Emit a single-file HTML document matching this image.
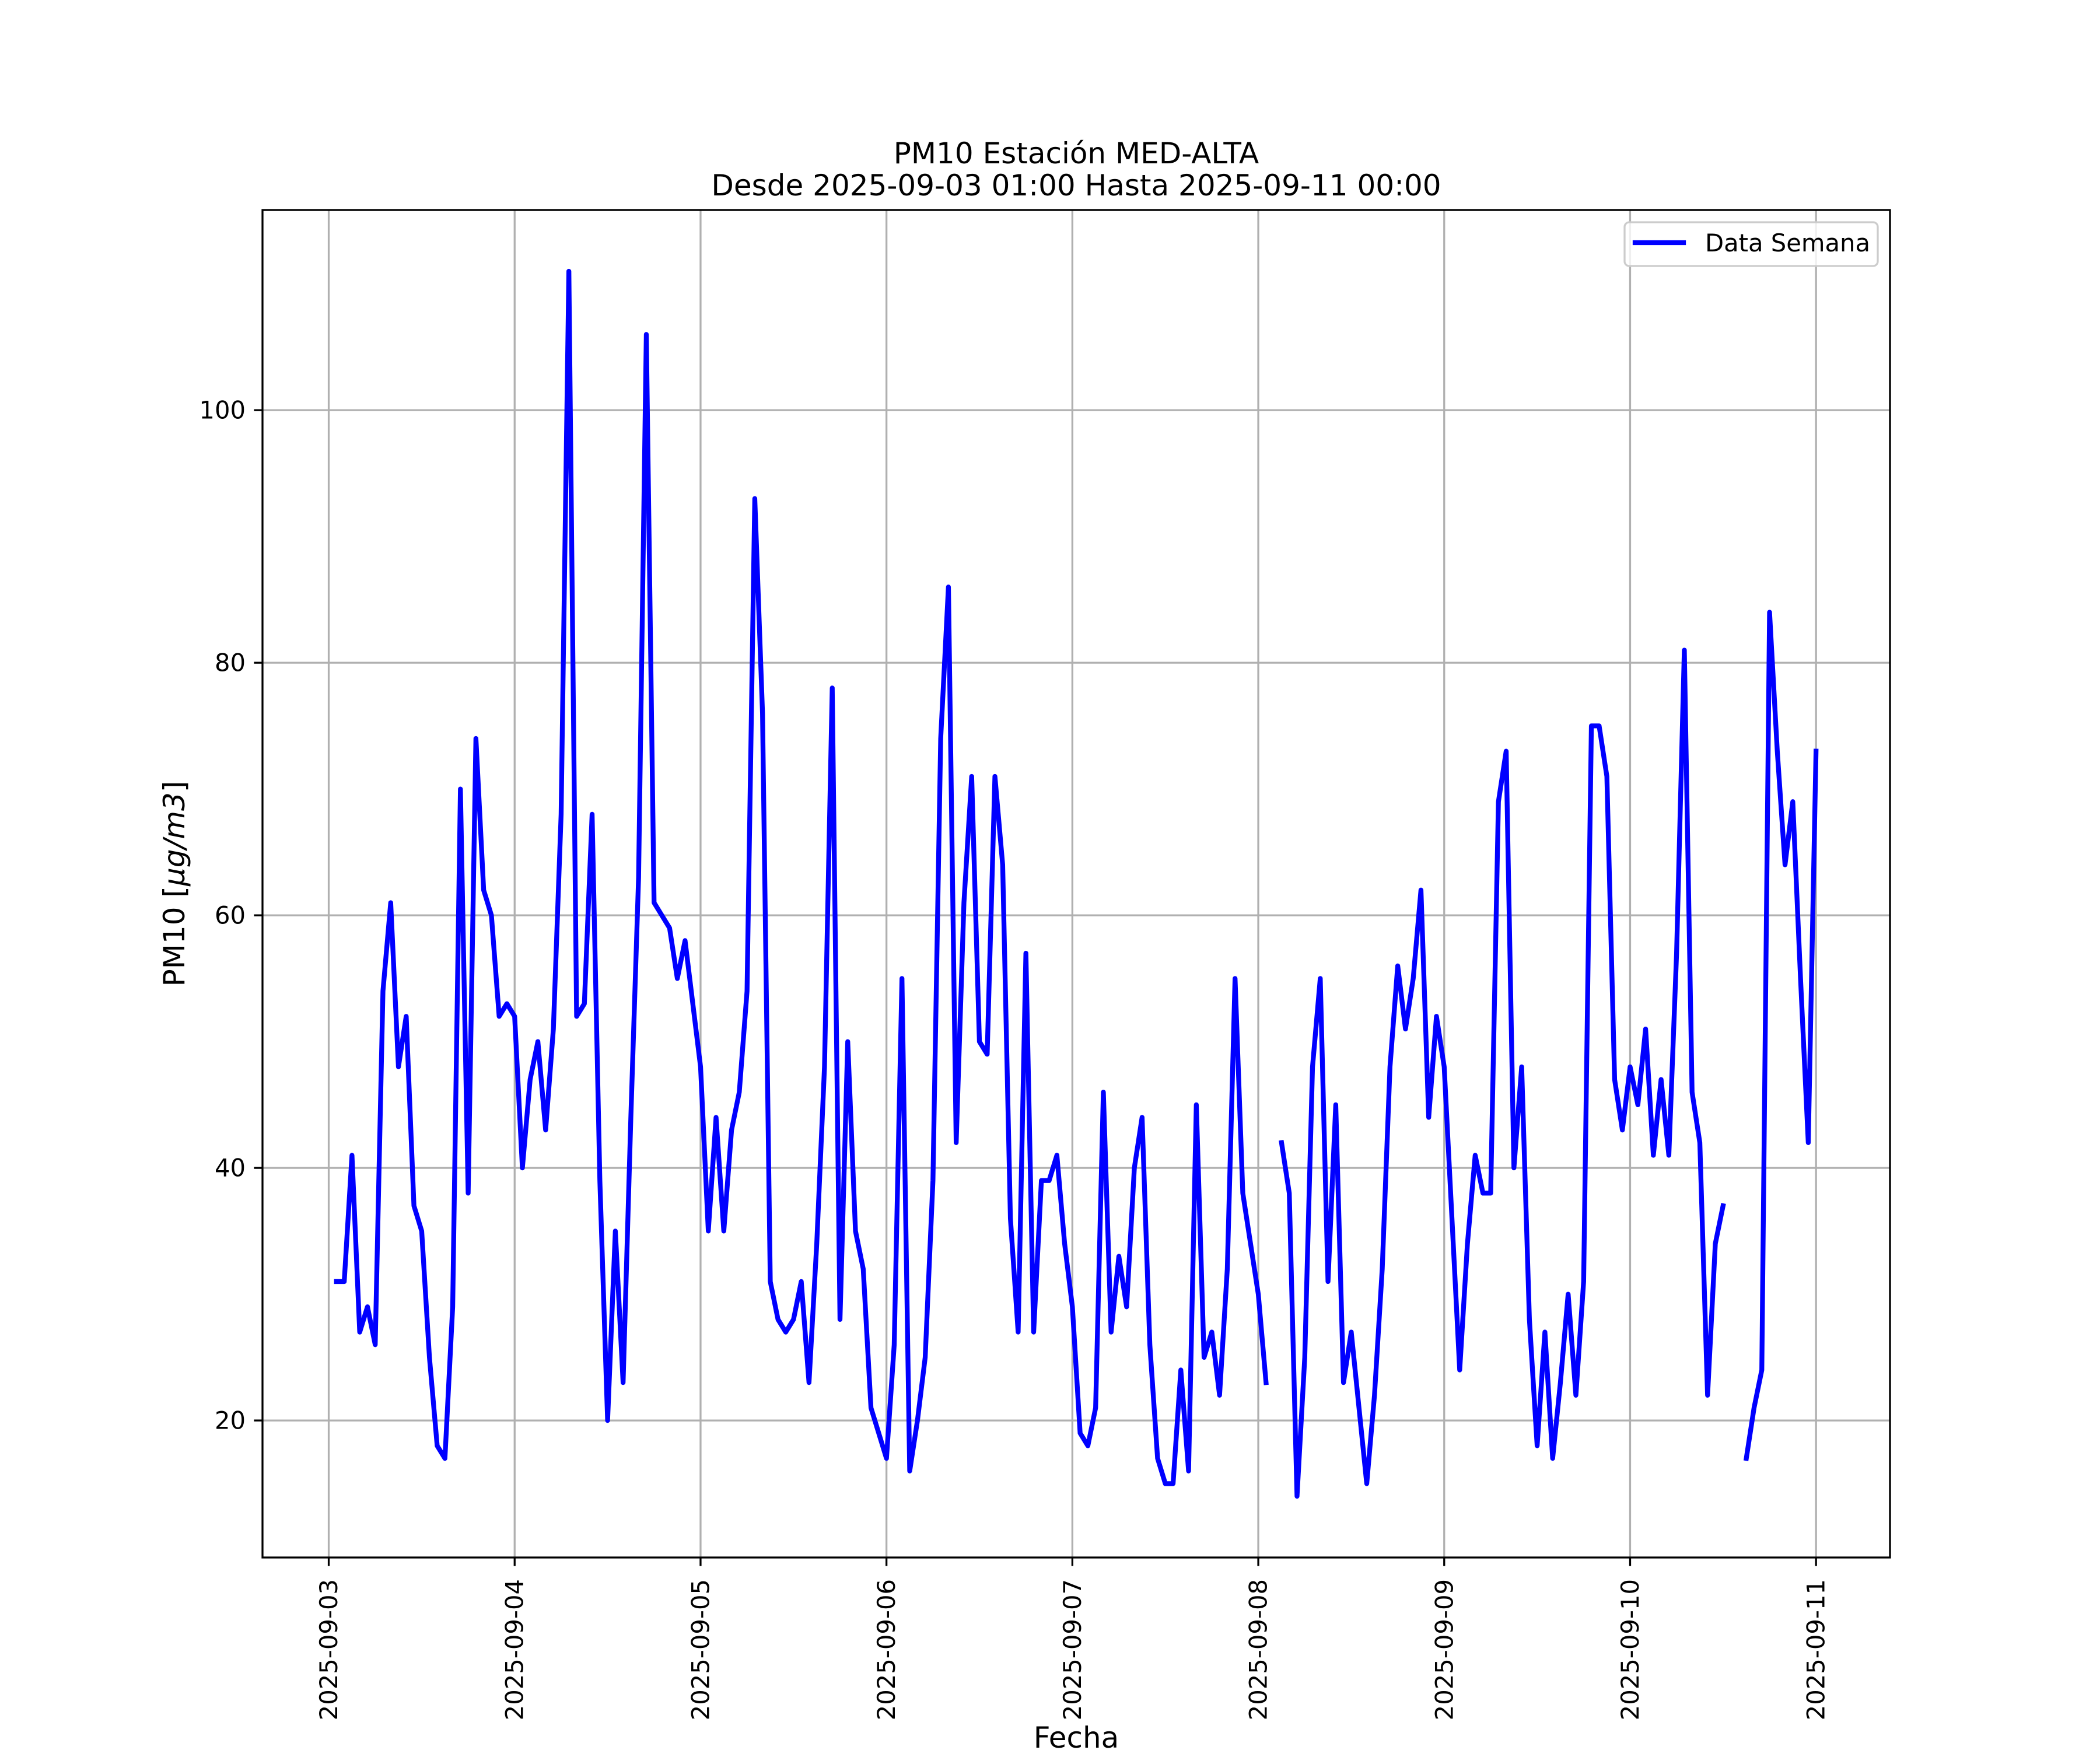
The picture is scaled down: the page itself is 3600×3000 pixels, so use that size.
<!DOCTYPE html>
<html><head><meta charset="utf-8"><title>PM10 Estación MED-ALTA</title>
<style>
html,body{margin:0;padding:0;background:#fff;}
svg{display:block;}
text{font-family:"DejaVu Sans","Liberation Sans",sans-serif;fill:#000;}
</style></head>
<body>
<svg id="chart" xmlns="http://www.w3.org/2000/svg" width="3600" height="3000" viewBox="0 0 3600 3000">
  <rect x="0" y="0" width="3600" height="3000" fill="#fff"/>
  <defs><clipPath id="axclip"><rect x="450" y="360" width="2790" height="2310"/></clipPath></defs>
  <g id="grid"></g>
  <g id="series" clip-path="url(#axclip)"></g>
  <rect x="450" y="360" width="2790" height="2310" fill="none" stroke="#000" stroke-width="3.3"/>
  <g id="xticks"></g>
  <g id="yticks"></g>
  <text x="1845" y="280" font-size="50" text-anchor="middle">PM10 Estación MED-ALTA</text>
  <text x="1845" y="335" font-size="50" text-anchor="middle">Desde 2025-09-03 01:00 Hasta 2025-09-11 00:00</text>
  <text x="1845" y="2996" font-size="50" text-anchor="middle">Fecha</text>
  <text transform="translate(316,1515) rotate(-90)" font-size="50" text-anchor="middle">PM10 [<tspan font-style="italic">μg/m3</tspan>]</text>
  <g>
    <rect x="2785" y="381" width="434" height="75" rx="8" ry="8" fill="#fff" fill-opacity="0.8" stroke="#cccccc" stroke-width="3.3"/>
    <line x1="2803" y1="416" x2="2886" y2="416" stroke="#0000ff" stroke-width="8.3" stroke-linecap="square"/>
    <text x="2923" y="431" font-size="41.7">Data Semana</text>
  </g>
</svg>
<script>
// Hourly PM10 values starting 2025-09-03 01:00 (hour offset 1) to 2025-09-11 00:00 (offset 192); null = missing
const values = [
31,31,41,27,29,26,54,61,48,52,37,35,25,18,17,29,70,38,74,62,60,52,53,52,
40,47,50,43,51,68,111,52,53,68,39,20,35,23,44,63,106,61,60,59,55,58,53,48,
35,44,35,43,46,54,93,76,31,28,27,28,31,23,34,48,78,28,50,35,32,21,19,17,
26,55,16,20,25,39,74,86,42,61,71,50,49,71,64,36,27,57,27,39,39,41,34,29,
19,18,21,46,27,33,29,40,44,26,17,15,15,24,16,45,25,27,22,32,55,38,34,30,
23,null,42,38,14,25,48,55,31,45,23,27,21,15,22,32,48,56,51,55,62,44,52,48,
36,24,34,41,38,38,69,73,40,48,28,18,27,17,23,30,22,31,75,75,71,47,43,48,
45,51,41,47,41,57,81,46,42,22,34,37,null,null,17,21,24,84,73,64,69,55,42,73
];
const firstHour = 1;
const xTickLabels = ["2025-09-03","2025-09-04","2025-09-05","2025-09-06","2025-09-07","2025-09-08","2025-09-09","2025-09-10","2025-09-11"];
const xTickHours = [0,24,48,72,96,120,144,168,192];
const yTickValues = [20,40,60,80,100];

const NS = "http://www.w3.org/2000/svg";
const AX = {l:450, r:3240, t:360, b:2670};
const hours = values.map((v,i)=>firstHour+i);
const hMin = hours[0], hMax = hours[hours.length-1];
const hPad = (hMax-hMin)*0.05;
const nn = values.filter(v=>v!==null);
const vMin = Math.min(...nn), vMax = Math.max(...nn);
const vPad = (vMax-vMin)*0.05;
function xs(h){ return AX.l + (h-(hMin-hPad))/((hMax+hPad)-(hMin-hPad))*(AX.r-AX.l); }
function ys(v){ return AX.b - (v-(vMin-vPad))/((vMax+vPad)-(vMin-vPad))*(AX.b-AX.t); }
function mk(tag, attrs, parent){ const e=document.createElementNS(NS,tag); for(const k in attrs) e.setAttribute(k,attrs[k]); parent.appendChild(e); return e; }

const grid = document.getElementById('grid');
const xt = document.getElementById('xticks');
const yt = document.getElementById('yticks');
xTickHours.forEach((h,i)=>{
  const x = xs(h);
  const g = mk('line',{x1:x,y1:AX.t,x2:x,y2:AX.b,stroke:'#b0b0b0','stroke-width':3.3},grid);
  
  
  const t = mk('line',{x1:x,y1:AX.b,x2:x,y2:AX.b+14.6,stroke:'#000','stroke-width':3.3},xt);
  
  
  const lb = mk('text',{transform:`translate(${x},${AX.b+37}) rotate(-90)`,'font-size':41.7,'text-anchor':'end','dominant-baseline':'central'},xt);
  lb.textContent = xTickLabels[i];
  
  
});
yTickValues.forEach(v=>{
  const y = ys(v);
  const g = mk('line',{x1:AX.l,y1:y,x2:AX.r,y2:y,stroke:'#b0b0b0','stroke-width':3.3},grid);
  
  
  const t = mk('line',{x1:AX.l-14.6,y1:y,x2:AX.l,y2:y,stroke:'#000','stroke-width':3.3},yt);
  
  
  const lb = mk('text',{x:AX.l-29,y:y,'font-size':41.7,'text-anchor':'end','dominant-baseline':'central'},yt);
  lb.textContent = String(v);
  
  
});

let d = '', pen = false;
values.forEach((v,i)=>{
  if(v===null){ pen=false; return; }
  d += (pen?'L':'M') + xs(hours[i]).toFixed(2) + ' ' + ys(v).toFixed(2) + ' ';
  pen = true;
});
const line = mk('path',{d:d,fill:'none',stroke:'#0000ff','stroke-width':8.3,'stroke-linejoin':'round','stroke-linecap':'square'},document.getElementById('series'));


</script>
</body></html>
